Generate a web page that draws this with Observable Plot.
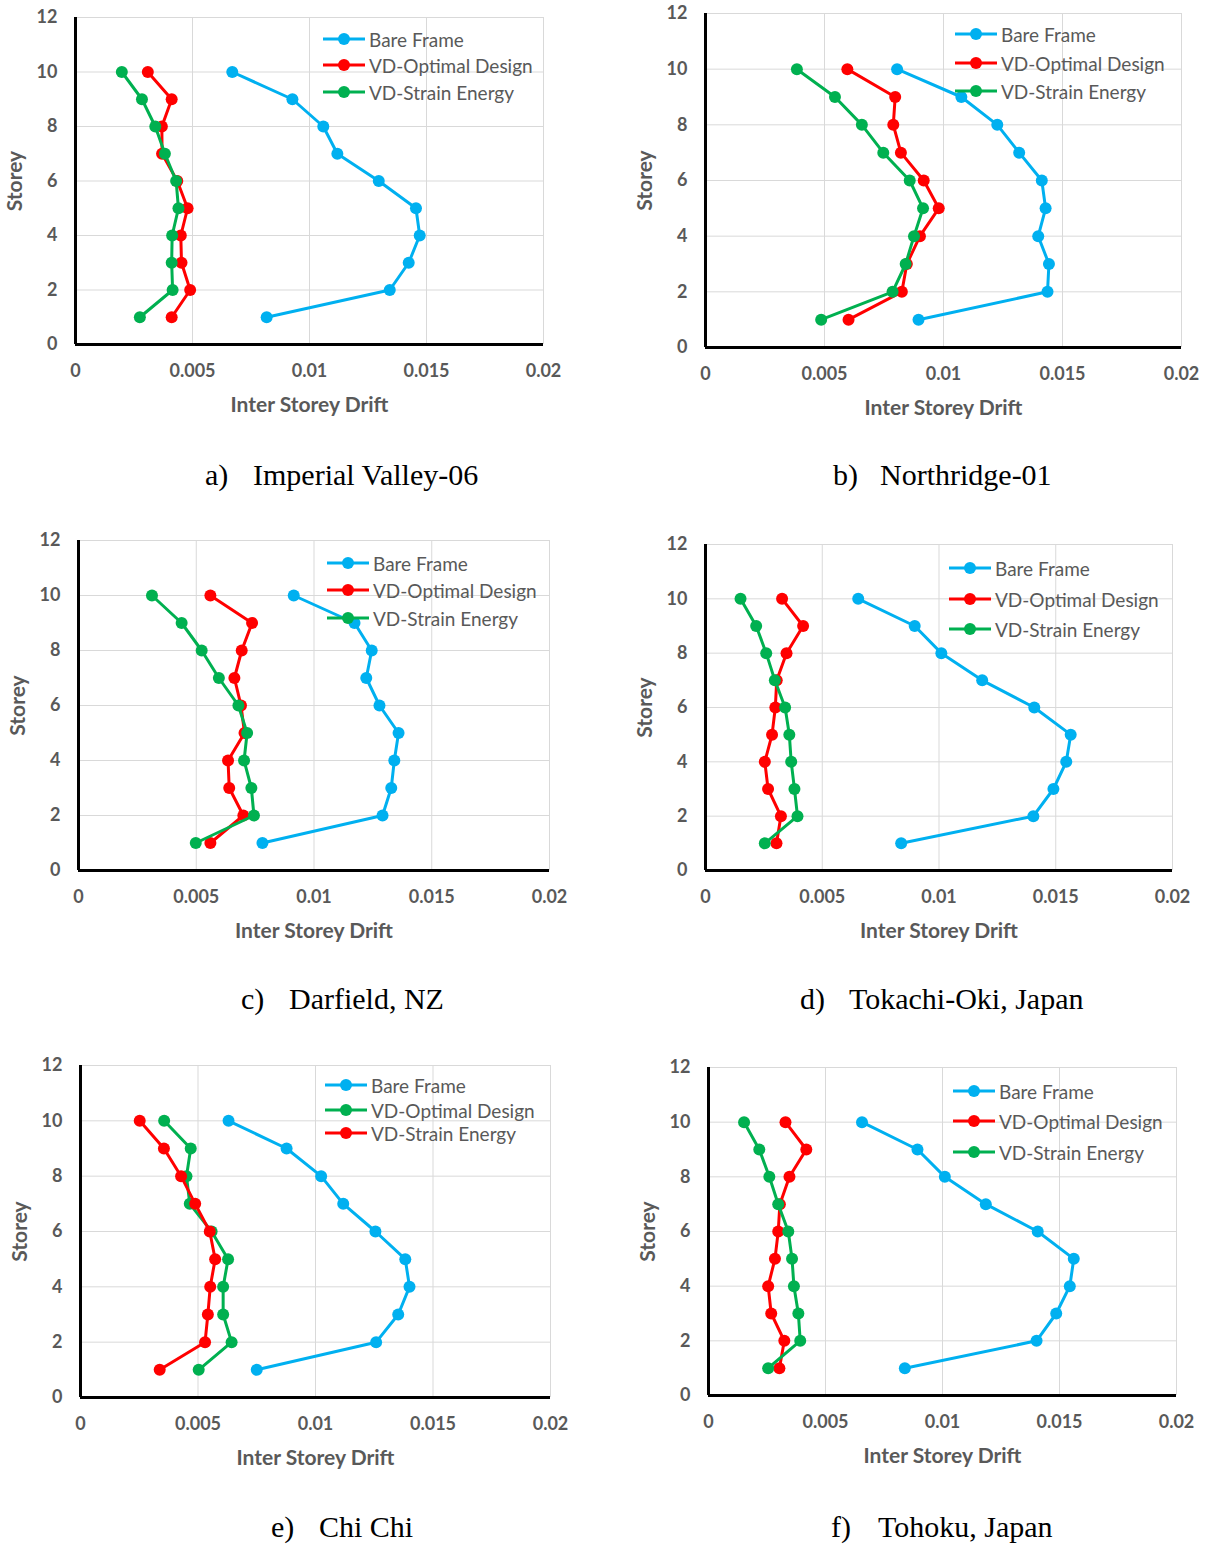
<!DOCTYPE html>
<html><head><meta charset="utf-8">
<script src="https://cdn.jsdelivr.net/npm/d3@7"></script>
<script src="https://cdn.jsdelivr.net/npm/@observablehq/plot@0.6"></script>
<style>
html,body{margin:0;padding:0;background:#fff;}
#page{position:relative;width:1206px;height:1544px;overflow:hidden;background:#fff;}
.panel{position:absolute;}
.panel svg [aria-label="x-axis tick label"], .panel svg [aria-label="y-axis tick label"]{font-size:18px;font-weight:700;}
.panel svg [aria-label="x-axis label"], .panel svg [aria-label="y-axis label"]{font-size:21px;font-weight:700;}
.legend-row{position:absolute;height:20px;display:flex;align-items:center;font-family:Lato,sans-serif;font-size:19px;color:#595959;white-space:nowrap;}
.cap{position:absolute;font-family:"Liberation Serif","Times New Roman",serif;font-size:30px;line-height:34px;color:#000;white-space:nowrap;}
</style></head><body><div id="page"></div>
<script>
// ---- data (storey 1 .. 10) ----
const storeys = [1, 2, 3, 4, 5, 6, 7, 8, 9, 10];
const xTicks = [0, 0.005, 0.01, 0.015, 0.02];
const xTickLabels = ["0", "0.005", "0.01", "0.015", "0.02"];
const yTicks = [0, 2, 4, 6, 8, 10, 12];
const yTickLabels = ["0", "2", "4", "6", "8", "10", "12"];

// a) Imperial Valley-06
const imperialBare    = [0.00817, 0.01343, 0.01424, 0.01471, 0.01455, 0.01296, 0.01119, 0.01059, 0.00927, 0.00670];
const imperialOptimal = [0.00411, 0.00490, 0.00453, 0.00450, 0.00479, 0.00435, 0.00370, 0.00369, 0.00411, 0.00309];
const imperialStrain  = [0.00275, 0.00415, 0.00411, 0.00413, 0.00440, 0.00430, 0.00382, 0.00341, 0.00284, 0.00198];
// b) Northridge-01
const northridgeBare    = [0.00895, 0.01437, 0.01443, 0.01398, 0.01429, 0.01413, 0.01318, 0.01226, 0.01075, 0.00805];
const northridgeOptimal = [0.00601, 0.00825, 0.00846, 0.00901, 0.00980, 0.00917, 0.00821, 0.00789, 0.00797, 0.00596];
const northridgeStrain  = [0.00486, 0.00786, 0.00841, 0.00876, 0.00914, 0.00858, 0.00747, 0.00657, 0.00544, 0.00384];
// c) Darfield, NZ
const darfieldBare    = [0.00781, 0.01291, 0.01328, 0.01341, 0.01359, 0.01278, 0.01222, 0.01245, 0.01172, 0.00914];
const darfieldOptimal = [0.00560, 0.00700, 0.00640, 0.00635, 0.00705, 0.00690, 0.00662, 0.00693, 0.00737, 0.00560];
const darfieldStrain  = [0.00498, 0.00745, 0.00734, 0.00703, 0.00716, 0.00679, 0.00596, 0.00523, 0.00438, 0.00312];
// d) Tokachi-Oki, Japan
const tokachiBare    = [0.00838, 0.01404, 0.01490, 0.01545, 0.01564, 0.01408, 0.01185, 0.01010, 0.00896, 0.00654];
const tokachiOptimal = [0.00304, 0.00323, 0.00268, 0.00254, 0.00285, 0.00299, 0.00305, 0.00347, 0.00418, 0.00328];
const tokachiStrain  = [0.00254, 0.00394, 0.00381, 0.00367, 0.00359, 0.00341, 0.00297, 0.00260, 0.00217, 0.00150];
// e) Chi Chi
const chichiBare    = [0.00750, 0.01258, 0.01352, 0.01400, 0.01382, 0.01255, 0.01118, 0.01024, 0.00877, 0.00630];
const chichiOptimal = [0.00503, 0.00643, 0.00607, 0.00607, 0.00628, 0.00558, 0.00465, 0.00451, 0.00469, 0.00356];
const chichiStrain  = [0.00337, 0.00530, 0.00542, 0.00552, 0.00573, 0.00550, 0.00488, 0.00428, 0.00355, 0.00252];
// f) Tohoku, Japan
const tohokuBare    = [0.00839, 0.01402, 0.01486, 0.01544, 0.01561, 0.01407, 0.01185, 0.01010, 0.00893, 0.00656];
const tohokuOptimal = [0.00303, 0.00324, 0.00268, 0.00255, 0.00284, 0.00298, 0.00305, 0.00346, 0.00418, 0.00329];
const tohokuStrain  = [0.00255, 0.00392, 0.00384, 0.00365, 0.00357, 0.00341, 0.00298, 0.00260, 0.00217, 0.00152];

const seriesNames = ["Bare Frame", "VD-Optimal Design", "VD-Strain Energy"];
const captionLetters = ["a)", "b)", "c)", "d)", "e)", "f)"];
const captionNames = ["Imperial Valley-06", "Northridge-01", "Darfield, NZ", "Tokachi-Oki, Japan", "Chi Chi", "Tohoku, Japan"];

// ---- styles / layout ----
const BLUE = "#00B0F0", RED = "#FF0000", GREEN = "#00B050";
const TEXT = "#595959", GRID = "#D9D9D9";

const panels = [
  {values: [imperialBare, imperialOptimal, imperialStrain], colors: [BLUE, RED, GREEN],
   left: 0, top: 0, width: 600, height: 430, m: [17, 57, 86, 75],
   legend: {x: 323, rows: [39, 65, 92]}, cap: {x: [205, 253], y: 476}},
  {values: [northridgeBare, northridgeOptimal, northridgeStrain], colors: [BLUE, RED, GREEN],
   left: 603, top: 0, width: 603, height: 430, m: [13, 25, 83, 102],
   legend: {x: 955, rows: [34, 63, 91]}, cap: {x: [833, 880], y: 476}},
  {values: [darfieldBare, darfieldOptimal, darfieldStrain], colors: [BLUE, RED, GREEN],
   left: 0, top: 520, width: 600, height: 430, m: [20, 51, 80, 78],
   legend: {x: 327, rows: [563, 590, 618]}, cap: {x: [241, 289], y: 1000}},
  {values: [tokachiBare, tokachiOptimal, tokachiStrain], colors: [BLUE, RED, GREEN],
   left: 603, top: 520, width: 603, height: 430, m: [24, 34, 80, 102],
   legend: {x: 949, rows: [568, 599, 629]}, cap: {x: [800, 849], y: 1000}},
  {values: [chichiBare, chichiOptimal, chichiStrain], colors: [BLUE, GREEN, RED],
   left: 0, top: 1045, width: 600, height: 430, m: [20, 50, 78, 80],
   legend: {x: 325, rows: [1085, 1110, 1133]}, cap: {x: [271, 319], y: 1528}},
  {values: [tohokuBare, tohokuOptimal, tohokuStrain], colors: [BLUE, RED, GREEN],
   left: 603, top: 1045, width: 603, height: 430, m: [22, 30, 80, 105],
   legend: {x: 953, rows: [1091, 1121, 1152]}, cap: {x: [831, 878], y: 1528}}
];

const page = document.getElementById("page");

panels.forEach((p, pi) => {
  const seriesMarks = [];
  p.values.forEach((vals, si) => {
    const rows = storeys.map((s, i) => ({storey: s, drift: vals[i]}));
    seriesMarks.push(Plot.line(rows, {x: "drift", y: "storey", stroke: p.colors[si], strokeWidth: 3}));
    seriesMarks.push(Plot.dot(rows, {x: "drift", y: "storey", fill: p.colors[si], r: 6, stroke: "none"}));
  });
  const chart = Plot.plot({
    width: p.width, height: p.height,
    marginTop: p.m[0], marginRight: p.m[1], marginBottom: p.m[2], marginLeft: p.m[3],
    style: {fontFamily: "Lato, sans-serif", fontSize: "18px", background: "transparent", overflow: "visible"},
    x: {domain: [0, 0.02]},
    y: {domain: [0, 12]},
    marks: [
      Plot.gridX(xTicks.slice(1), {stroke: GRID, strokeOpacity: 1, strokeWidth: 1}),
      Plot.gridY(yTicks.slice(1), {stroke: GRID, strokeOpacity: 1, strokeWidth: 1}),
      Plot.axisX(xTicks, {tickSize: 0, tickPadding: 20, tickFormat: d => xTickLabels[xTicks.indexOf(d)],
        label: "Inter Storey Drift", labelAnchor: "center", labelOffset: 67, labelArrow: "none",
        fill: TEXT, fontWeight: "bold"}),
      Plot.axisY(yTicks, {tickSize: 0, tickPadding: 18, tickFormat: d => yTickLabels[yTicks.indexOf(d)],
        label: "Storey", labelAnchor: "center", labelOffset: 68, labelArrow: "none",
        fill: TEXT, fontWeight: "bold"}),
      Plot.ruleX([0], {stroke: "#000", strokeWidth: 3}),
      Plot.ruleY([0], {stroke: "#000", strokeWidth: 3}),
      ...seriesMarks
    ]
  });
  const holder = document.createElement("div");
  holder.className = "panel";
  holder.style.left = p.left + "px";
  holder.style.top = p.top + "px";
  holder.appendChild(chart);
  page.appendChild(holder);

  // legend
  seriesNames.forEach((name, si) => {
    const row = document.createElement("div");
    row.className = "legend-row";
    row.style.left = p.legend.x + "px";
    row.style.top = (p.legend.rows[si] - 10) + "px";
    const ns = "http://www.w3.org/2000/svg";
    const sw = document.createElementNS(ns, "svg");
    sw.setAttribute("width", 42); sw.setAttribute("height", 14);
    const ln = document.createElementNS(ns, "line");
    ln.setAttribute("x1", 0); ln.setAttribute("x2", 42); ln.setAttribute("y1", 7); ln.setAttribute("y2", 7);
    ln.setAttribute("stroke", p.colors[si]); ln.setAttribute("stroke-width", 3);
    const c = document.createElementNS(ns, "circle");
    c.setAttribute("cx", 21); c.setAttribute("cy", 7); c.setAttribute("r", 6); c.setAttribute("fill", p.colors[si]);
    sw.appendChild(ln); sw.appendChild(c);
    const t = document.createElement("span");
    t.textContent = name;
    t.style.marginLeft = "4px";
    row.appendChild(sw); row.appendChild(t);
    page.appendChild(row);
  });

  // caption
  [captionLetters[pi], captionNames[pi]].forEach((txt, k) => {
    const s = document.createElement("div");
    s.className = "cap";
    s.style.left = p.cap.x[k] + "px";
    s.style.top = (p.cap.y - 18) + "px";
    s.textContent = txt;
    page.appendChild(s);
  });
});
</script>
</body></html>
